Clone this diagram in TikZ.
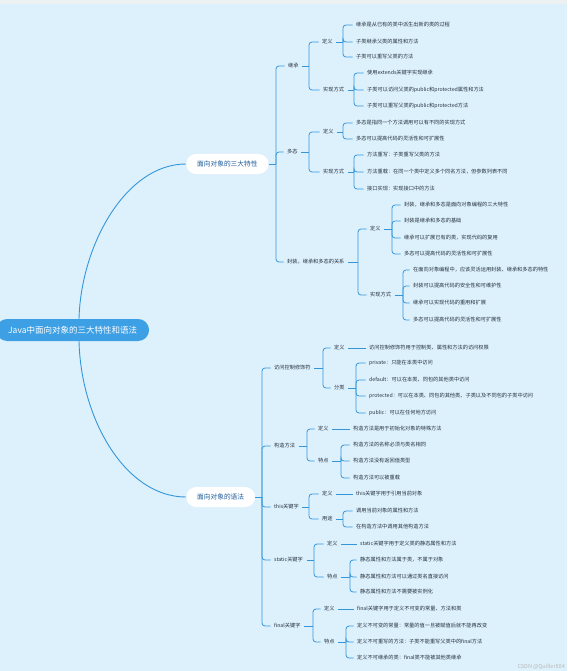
\documentclass[tikz,border=0pt]{standalone}
\usepackage{fontspec}
\newfontfamily\cjk{Noto Sans CJK SC}
\usetikzlibrary{calc}
\definecolor{bgc}{HTML}{DDF1FC}
\definecolor{linec}{HTML}{3396DA}
\definecolor{rootc}{HTML}{3D9FE4}
\definecolor{lonetext}{HTML}{1E5C9B}
\definecolor{txt}{HTML}{24323F}
\definecolor{topstrip}{HTML}{EEF1F2}
\newcommand\forkto[3]{%
  \draw[conn] (#1.east) -- (#1.east -| #2);
  \foreach \cc in {#3}{\draw[conn,rounded corners=3pt] (#1.east -| #2) |- (\cc.west);}}
\begin{document}
\begin{tikzpicture}[x=1pt,y=-1pt,
  conn/.style={draw=linec,line width=0.8pt},
  leaf/.style={anchor=west,inner xsep=3.5pt,inner ysep=1pt,text height=4.5pt,text depth=1.2pt,font=\cjk\fontsize{5.2}{6}\selectfont,text=txt},
  mid/.style={leaf},
  lvlone/.style={anchor=west,fill=white,rounded corners=10pt,minimum height=20pt,inner xsep=11pt,font=\cjk\fontsize{6.7}{8}\selectfont,text=lonetext},
  rootnode/.style={anchor=west,fill=rootc,rounded corners=11pt,minimum height=22pt,inner xsep=12pt,font=\cjk\fontsize{8.5}{10}\selectfont,text=white}]
\fill[bgc] (0,0) rectangle (567,671);
\fill[topstrip] (0,0) rectangle (567,4);
\useasboundingbox (0,0) rectangle (567,671);

% root and level one
\node[rootnode] (root) at (-4,330) {Java中面向对象的三大特性和语法};
\node[lvlone] (oop) at (186,164) {面向对象的三大特性};
\node[lvlone] (syn) at (186,497) {面向对象的语法};
\path (root.north west) ++(83,0) coordinate (rtop);
\path (root.south west) ++(83,0) coordinate (rbot);
\draw[conn,line width=0.9pt] (rtop) .. controls +(2,-74) and +(-60,0) .. (oop.west);
\draw[conn,line width=0.9pt] (rbot) .. controls +(2,79) and +(-60,0) .. (syn.west);

% bars
\coordinate (B0) at (276,0);
\coordinate (Bjc) at (309,0);
\coordinate (Bjcdy) at (343,0);
\coordinate (Bjcsx) at (354,0);
\coordinate (Bdt) at (309,0);
\coordinate (Bdtdy) at (343,0);
\coordinate (Bdtsx) at (354,0);
\coordinate (Bfz) at (358,0);
\coordinate (Bfzdy) at (392,0);
\coordinate (Bfzsx) at (403,0);
\coordinate (B1) at (262,0);
\coordinate (Bfw) at (323,0);
\coordinate (Bfwfl) at (356,0);
\coordinate (Bgz) at (307,0);
\coordinate (Bgztd) at (341,0);
\coordinate (Bth) at (309,0);
\coordinate (Bthyt) at (343,0);
\coordinate (Bst) at (314,0);
\coordinate (Bsttd) at (350,0);
\coordinate (Bfn) at (313,0);
\coordinate (Bfntd) at (346,0);

% ---- top branch ----
\node[mid] (jc) at (284.5,66) {继承};
\node[mid] (jcdy) at (318.5,42) {定义};
\node[leaf] (jc1) at (352.5,25) {继承是从已有的类中派生出新的类的过程};
\node[leaf] (jc2) at (352.5,42) {子类继承父类的属性和方法};
\node[leaf] (jc3) at (352.5,57) {子类可以重写父类的方法};
\node[mid] (jcsx) at (319.5,90) {实现方式};
\node[leaf] (jc4) at (363.5,73) {使用extends关键字实现继承};
\node[leaf] (jc5) at (363.5,90) {子类可以访问父类的public和protected属性和方法};
\node[leaf] (jc6) at (363.5,106) {子类可以重写父类的public和protected方法};

\node[mid] (dt) at (283.5,152) {多态};
\node[mid] (dtdy) at (319.5,132) {定义};
\node[leaf] (dt1) at (352.5,123) {多态是指同一个方法调用可以有不同的实现方式};
\node[leaf] (dt2) at (352.5,139) {多态可以提高代码的灵活性和可扩展性};
\node[mid] (dtsx) at (319.5,172) {实现方式};
\node[leaf] (dt3) at (363.5,155) {方法重写：子类重写父类的方法};
\node[leaf] (dt4) at (363.5,172) {方法重载：在同一个类中定义多个同名方法，但参数列表不同};
\node[leaf] (dt5) at (363.5,189) {接口实现：实现接口中的方法};

\node[mid] (fz) at (283.5,262) {封装，继承和多态的关系};
\node[mid] (fzdy) at (366.5,229) {定义};
\node[leaf] (fz1) at (400.5,205) {封装，继承和多态是面向对象编程的三大特性};
\node[leaf] (fz2) at (400.5,221) {封装是继承和多态的基础};
\node[leaf] (fz3) at (400.5,238) {继承可以扩展已有的类，实现代码的复用};
\node[leaf] (fz4) at (400.5,254) {多态可以提高代码的灵活性和可扩展性};
\node[mid] (fzsx) at (366.5,295) {实现方式};
\node[leaf] (fz5) at (409.5,270) {在面向对象编程中，应该灵活运用封装、继承和多态的特性};
\node[leaf] (fz6) at (409.5,286) {封装可以提高代码的安全性和可维护性};
\node[leaf] (fz7) at (409.5,303) {继承可以实现代码的重用和扩展};
\node[leaf] (fz8) at (409.5,320) {多态可以提高代码的灵活性和可扩展性};

\forkto{oop}{B0}{jc,dt,fz}
\forkto{jc}{Bjc}{jcdy,jcsx}
\forkto{jcdy}{Bjcdy}{jc1,jc2,jc3}
\forkto{jcsx}{Bjcsx}{jc4,jc5,jc6}
\forkto{dt}{Bdt}{dtdy,dtsx}
\forkto{dtdy}{Bdtdy}{dt1,dt2}
\forkto{dtsx}{Bdtsx}{dt3,dt4,dt5}
\forkto{fz}{Bfz}{fzdy,fzsx}
\forkto{fzdy}{Bfzdy}{fz1,fz2,fz3,fz4}
\forkto{fzsx}{Bfzsx}{fz5,fz6,fz7,fz8}

% ---- bottom branch ----
\node[mid] (fw) at (270.5,368) {访问控制修饰符};
\node[mid] (fwdy) at (330.5,348) {定义};
\node[leaf] (fw0) at (365.5,348) {访问控制修饰符用于控制类、属性和方法的访问权限};
\node[mid] (fwfl) at (330.5,388) {分类};
\node[leaf] (fw1) at (365.5,363) {private：只能在本类中访问};
\node[leaf] (fw2) at (365.5,380) {default：可以在本类、同包的其他类中访问};
\node[leaf] (fw3) at (365.5,396) {protected：可以在本类、同包的其他类、子类以及不同包的子类中访问};
\node[leaf] (fw4) at (365.5,413) {public：可以在任何地方访问};

\node[mid] (gz) at (270.5,446) {构造方法};
\node[mid] (gzdy) at (314.5,429) {定义};
\node[leaf] (gz0) at (349.5,429) {构造方法是用于初始化对象的特殊方法};
\node[mid] (gztd) at (314.5,461) {特点};
\node[leaf] (gz1) at (349.5,445) {构造方法的名称必须与类名相同};
\node[leaf] (gz2) at (349.5,461) {构造方法没有返回值类型};
\node[leaf] (gz3) at (349.5,478) {构造方法可以被重载};

\node[mid] (th) at (270.5,507) {this关键字};
\node[mid] (thdy) at (318.5,494) {定义};
\node[leaf] (th0) at (352.5,494) {this关键字用于引用当前对象};
\node[mid] (thyt) at (318.5,519) {用途};
\node[leaf] (th1) at (352.5,511) {调用当前对象的属性和方法};
\node[leaf] (th2) at (352.5,527) {在构造方法中调用其他构造方法};

\node[mid] (st) at (270.5,560) {static关键字};
\node[mid] (stdy) at (323.5,544) {定义};
\node[leaf] (st0) at (356.5,544) {static关键字用于定义类的静态属性和方法};
\node[mid] (sttd) at (323.5,577) {特点};
\node[leaf] (st1) at (356.5,560) {静态属性和方法属于类，不属于对象};
\node[leaf] (st2) at (356.5,577) {静态属性和方法可以通过类名直接访问};
\node[leaf] (st3) at (356.5,592) {静态属性和方法不需要被实例化};

\node[mid] (fn) at (270.5,626) {final关键字};
\node[mid] (fndy) at (320.5,609) {定义};
\node[leaf] (fn0) at (353.5,609) {final关键字用于定义不可变的常量、方法和类};
\node[mid] (fntd) at (320.5,642) {特点};
\node[leaf] (fn1) at (353.5,626) {定义不可变的常量：常量的值一旦被赋值后就不能再改变};
\node[leaf] (fn2) at (353.5,642) {定义不可重写的方法：子类不能重写父类中的final方法};
\node[leaf] (fn3) at (353.5,658) {定义不可继承的类：final类不能被其他类继承};

\forkto{syn}{B1}{fw,gz,th,st,fn}
\draw[conn] (fwdy.east) -- (fw0.west);
\forkto{fw}{Bfw}{fwdy,fwfl}
\forkto{fwfl}{Bfwfl}{fw1,fw2,fw3,fw4}
\draw[conn] (gzdy.east) -- (gz0.west);
\forkto{gz}{Bgz}{gzdy,gztd}
\forkto{gztd}{Bgztd}{gz1,gz2,gz3}
\draw[conn] (thdy.east) -- (th0.west);
\forkto{th}{Bth}{thdy,thyt}
\forkto{thyt}{Bthyt}{th1,th2}
\draw[conn] (stdy.east) -- (st0.west);
\forkto{st}{Bst}{stdy,sttd}
\forkto{sttd}{Bsttd}{st1,st2,st3}
\draw[conn] (fndy.east) -- (fn0.west);
\forkto{fn}{Bfn}{fndy,fntd}
\forkto{fntd}{Bfntd}{fn1,fn2,fn3}

% watermark
\node[anchor=south east,inner sep=0pt,font=\cjk\fontsize{5.5}{6.5}\selectfont,text=gray!55] (wm) at (565,670) {CSDN @Quiller504};
\end{tikzpicture}
\end{document}
